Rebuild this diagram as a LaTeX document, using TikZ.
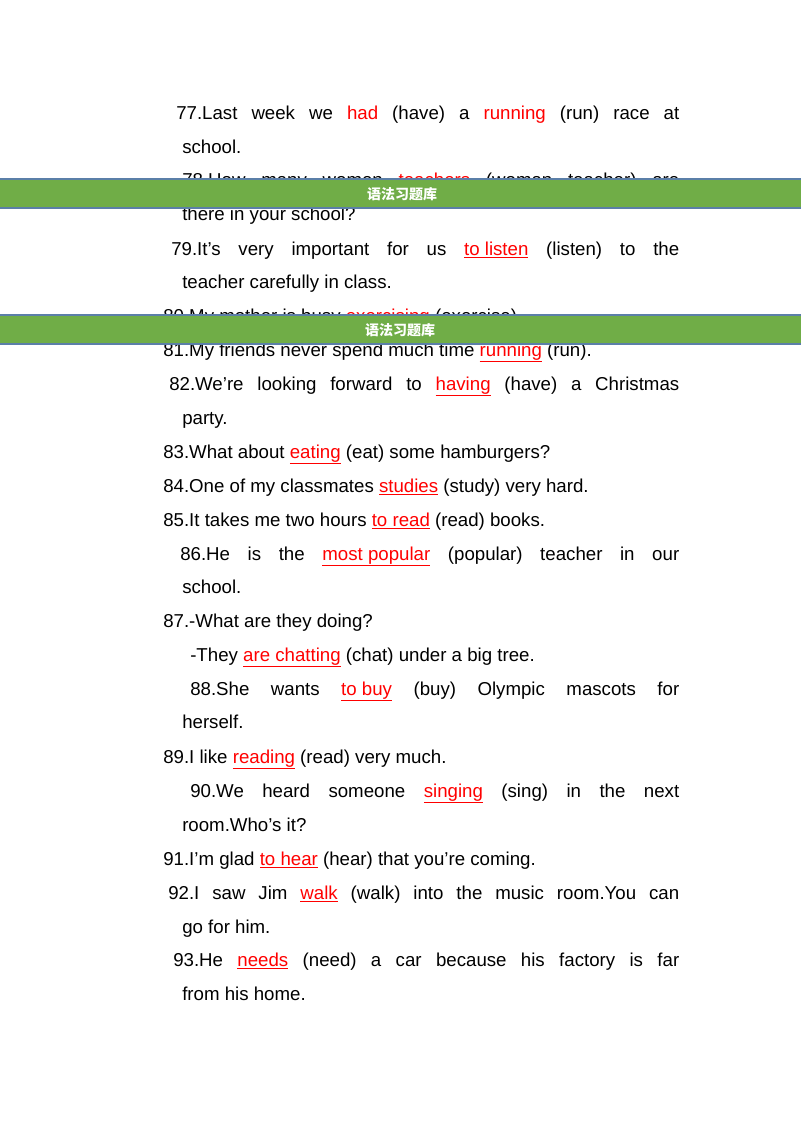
\documentclass[tikz,border=0pt]{standalone}
\usepackage{fontspec}
\setmainfont{Liberation Sans}
\newfontfamily\cjk{Noto Sans CJK SC}
\usepackage{xcolor}
\definecolor{bangreen}{HTML}{70AD47}
\definecolor{banedge}{HTML}{5B7FA8}
\definecolor{ansred}{HTML}{FF0000}
\newcommand{\R}[1]{\textcolor{ansred}{#1}}
\newcommand{\U}[1]{\textcolor{ansred}{\underline{#1}}}
\begin{document}
\begin{tikzpicture}[x=0.75pt,y=-0.75pt,
  txt/.style={anchor=base west,inner sep=0pt,font=\fontsize{14}{16}\selectfont},
  jst/.style={txt,align=justify,execute at begin node={\parfillskip=0pt}},
  banner/.style={draw=banedge,line width=1.2pt,fill=bangreen},
  bantext/.style={text=white,font=\cjk\bfseries\fontsize{10.5}{12}\selectfont}]
\useasboundingbox (0,0) rectangle (800,1132);
\node[jst,text width=377.25pt] (l77) at (176,119) {77.Last week we \R{had} (have) a \R{running} (run) race at};
\node[txt] (l77b) at (182,153) {school.};
\node[jst,text width=372.75pt] (l78) at (182,186) {78.How many women \U{teachers} (woman teacher) are};
\node[txt] (l78b) at (182,220) {there in your school?};
\node[jst,text width=381pt] (l79) at (171,255) {79.It’s very important for us \U{to listen} (listen) to the};
\node[txt] (l79b) at (182,288) {teacher carefully in class.};
\node[txt] (l80) at (163,322) {80.My mother is busy \U{exercising} (exercise).};
\node[txt] (l81) at (163,356) {81.My friends never spend much time \U{running} (run).};
\node[jst,text width=382.5pt] (l82) at (169,390) {82.We’re looking forward to \U{having} (have) a Christmas};
\node[txt] (l82b) at (182,424) {party.};
\node[txt] (l83) at (163,458) {83.What about \U{eating} (eat) some hamburgers?};
\node[txt] (l84) at (163,492) {84.One of my classmates \U{studies} (study) very hard.};
\node[txt] (l85) at (163,526) {85.It takes me two hours \U{to read} (read) books.};
\node[jst,text width=374.25pt] (l86) at (180,560) {86.He is the \U{most popular} (popular) teacher in our};
\node[txt] (l86b) at (182,593) {school.};
\node[txt] (l87) at (163,627) {87.-What are they doing?};
\node[txt] (l87b) at (190,661) {-They \U{are chatting} (chat) under a big tree.};
\node[jst,text width=366.75pt] (l88) at (190,695) {88.She wants \U{to buy} (buy) Olympic mascots for};
\node[txt] (l88b) at (182,728) {herself.};
\node[txt] (l89) at (163,763) {89.I like \U{reading} (read) very much.};
\node[jst,text width=366.75pt] (l90) at (190,797) {90.We heard someone \U{singing} (sing) in the next};
\node[txt] (l90b) at (182,831) {room.Who’s it?};
\node[txt] (l91) at (163,865) {91.I’m glad \U{to hear} (hear) that you’re coming.};
\node[jst,text width=383.25pt] (l92) at (168,899) {92.I saw Jim \U{walk} (walk) into the music room.You can};
\node[txt] (l92b) at (182,933) {go for him.};
\node[jst,text width=379.5pt] (l93) at (173,966) {93.He \U{needs} (need) a car because his factory is far};
\node[txt] (l93b) at (182,1000) {from his home.};
\draw[banner] (-2,179) rectangle (802,208);
\node[bantext] (b1) at (402,194) {语法习题库};
\draw[banner] (-2,315) rectangle (802,344);
\node[bantext] (b2) at (400,330) {语法习题库};
\end{tikzpicture}
\end{document}
